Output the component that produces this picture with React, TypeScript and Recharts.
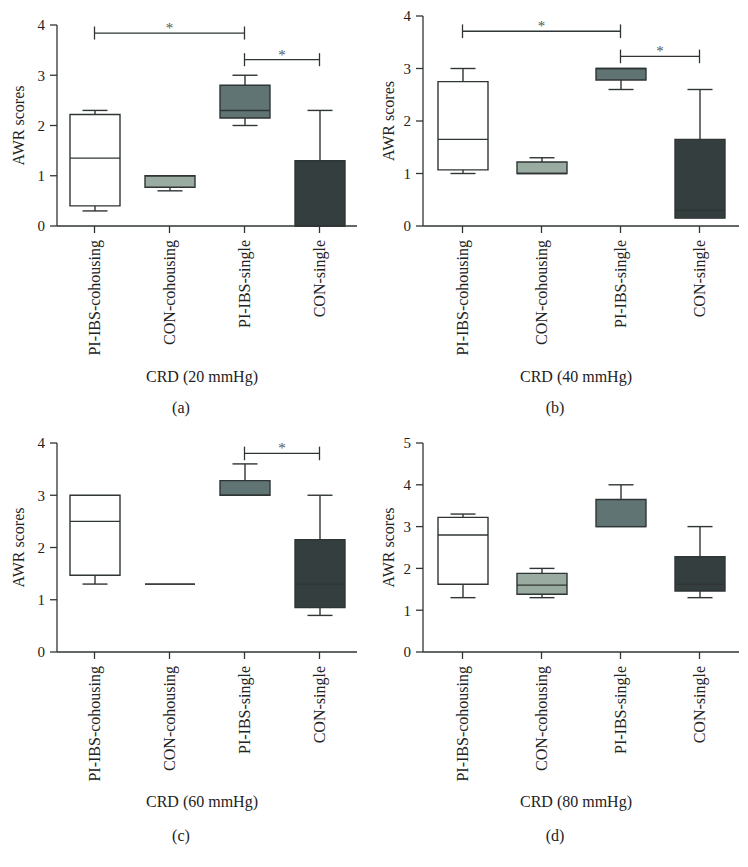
import { ComposedChart, Bar, XAxis, YAxis, ReferenceLine } from "recharts";

const FONT = '"Liberation Serif", "Times New Roman", serif';

const categories = ["PI-IBS-cohousing", "CON-cohousing", "PI-IBS-single", "CON-single"];

// [min, q1, median, q3, max] for each group
const crd20 = [
  [0.3, 0.4, 1.35, 2.22, 2.3],
  [0.7, 0.77, 1.0, 1.0, 1.0],
  [2.0, 2.15, 2.3, 2.8, 3.0],
  [0, 0, 0, 1.3, 2.3],
];
const crd40 = [
  [1.0, 1.07, 1.65, 2.75, 3.0],
  [1.0, 1.0, 1.0, 1.22, 1.3],
  [2.6, 2.78, 3.0, 3.0, 3.0],
  [0.15, 0.15, 0.3, 1.65, 2.6],
];
const crd60 = [
  [1.3, 1.47, 2.5, 3.0, 3.0],
  [1.3, 1.3, 1.3, 1.3, 1.3],
  [3.0, 3.0, 3.0, 3.28, 3.6],
  [0.7, 0.85, 1.3, 2.15, 3.0],
];
const crd80 = [
  [1.3, 1.62, 2.8, 3.22, 3.3],
  [1.3, 1.38, 1.6, 1.88, 2.0],
  [3.0, 3.0, 3.0, 3.65, 4.0],
  [1.3, 1.46, 1.62, 2.28, 3.0],
];

// significance bars: from group, to group, height
const sig20 = [
  { from: 0, to: 2, y: 3.84 },
  { from: 2, to: 3, y: 3.31 },
];
const sig40 = [
  { from: 0, to: 2, y: 3.71 },
  { from: 2, to: 3, y: 3.23 },
];
const sig60 = [{ from: 2, to: 3, y: 3.8 }];
const sig80: { from: number; to: number; y: number }[] = [];

const ticks4 = [0, 1, 2, 3, 4];
const ticks5 = [0, 1, 2, 3, 4, 5];

const boxColors = ["#ffffff", "#9aaba1", "#5f7473", "#343e3e"];
const INK = "#2f3535";
const TEXT = "#222222";

function BoxShape(props: any) {
  const { x, y, width, height, payload } = props;
  const zero = y + height;
  const unit = height / payload.max;
  const py = (v: number) => zero - v * unit;
  const cx = x + width / 2;
  const cap = width / 4;
  const x0 = x;
  const x1 = x + width;
  return (
    <g stroke={INK} strokeWidth={1.4}>
      {payload.max > payload.q3 && (
        <>
          <line x1={cx} x2={cx} y1={py(payload.max)} y2={py(payload.q3)} />
          <line x1={cx - cap} x2={cx + cap} y1={py(payload.max)} y2={py(payload.max)} />
        </>
      )}
      {payload.min < payload.q1 && (
        <>
          <line x1={cx} x2={cx} y1={py(payload.min)} y2={py(payload.q1)} />
          <line x1={cx - cap} x2={cx + cap} y1={py(payload.min)} y2={py(payload.min)} />
        </>
      )}
      <path
        d={`M${x0},${py(payload.q3)}H${x1}V${py(payload.q1)}H${x0}Z`}
        fill={payload.fill}
      />
      <line x1={x0} x2={x1} y1={py(payload.median)} y2={py(payload.median)} />
    </g>
  );
}

function CatTick(props: any) {
  const { x, y, payload } = props;
  return (
    <text
      x={x}
      y={y}
      transform={`rotate(-90 ${x} ${y})`}
      textAnchor="end"
      dy="0.35em"
      fontSize={16}
      fontFamily={FONT}
      fill={TEXT}
    >
      {payload.value}
    </text>
  );
}

function Panel({ stats, sigs, ticks, title, letter, left, top, margin, yWidth, titleOffset, letterY }: any) {
  const data = categories.map((name, i) => ({
    name,
    min: stats[i][0],
    q1: stats[i][1],
    median: stats[i][2],
    q3: stats[i][3],
    max: stats[i][4],
    fill: boxColors[i],
  }));
  const yMax = ticks[ticks.length - 1];
  return (
    <div style={{ position: "absolute", left, top, width: 374, height: 447 }}>
      <ComposedChart width={374} height={400} data={data} margin={margin}>
        <XAxis
          dataKey="name"
          interval={0}
          height={160}
          tick={<CatTick />}
          tickSize={7}
          tickMargin={7}
          stroke={INK}
          strokeWidth={1.3}
          label={{
            value: title,
            position: "insideBottom",
            offset: titleOffset,
            dx: -5,
            fontSize: 16,
            fontFamily: FONT,
            fill: TEXT,
            style: { fill: TEXT },
          }}
        />
        <YAxis
          domain={[0, yMax]}
          ticks={ticks}
          width={yWidth}
          tickSize={7}
          tickMargin={5}
          stroke={INK}
          strokeWidth={1.3}
          tick={{ fontSize: 15, fontFamily: FONT, fill: TEXT, style: { fill: TEXT } }}
          label={{
            value: "AWR scores",
            angle: -90,
            position: "insideLeft",
            offset: 8,
            fontSize: 16,
            fontFamily: FONT,
            fill: TEXT,
            style: { textAnchor: "middle", fill: TEXT },
          }}
        />
        <Bar dataKey="max" barSize={50} shape={<BoxShape />} isAnimationActive={false} />
        {sigs.map((s: any, i: number) => (
          <ReferenceLine
            key={`h${i}`}
            segment={[
              { x: categories[s.from], y: s.y },
              { x: categories[s.to], y: s.y },
            ]}
            stroke={INK}
            strokeWidth={1.3}
            ifOverflow="visible"
            label={{
              value: "*",
              position: "top",
              offset: 0,
              fontSize: 15,
              fontFamily: FONT,
              fill: "#555",
              style: { fill: "#555" },
            }}
          />
        ))}
        {sigs.map((s: any, i: number) => (
          <ReferenceLine
            key={`l${i}`}
            segment={[
              { x: categories[s.from], y: s.y - 0.13 },
              { x: categories[s.from], y: s.y + 0.13 },
            ]}
            stroke={INK}
            strokeWidth={1.3}
            ifOverflow="visible"
          />
        ))}
        {sigs.map((s: any, i: number) => (
          <ReferenceLine
            key={`r${i}`}
            segment={[
              { x: categories[s.to], y: s.y - 0.13 },
              { x: categories[s.to], y: s.y + 0.13 },
            ]}
            stroke={INK}
            strokeWidth={1.3}
            ifOverflow="visible"
          />
        ))}
      </ComposedChart>
      <div
        style={{
          position: "absolute",
          left: 161,
          width: 40,
          top: letterY - 10,
          lineHeight: "20px",
          textAlign: "center",
          fontSize: 16,
          fontFamily: FONT,
          color: TEXT,
        }}
      >
        {letter}
      </div>
    </div>
  );
}

export default function App() {
  return (
    <div style={{ position: "absolute", left: 0, top: 0, width: 748, height: 867, background: "#fff", overflow: "hidden" }}>
      <Panel
        stats={crd20}
        sigs={sig20}
        ticks={ticks4}
        title="CRD (20 mmHg)"
        letter="(a)"
        left={0}
        top={0}
        margin={{ top: 25, right: 17, bottom: 14, left: 10 }}
        yWidth={47}
        titleOffset={4}
        letterY={408}
      />
      <Panel
        stats={crd40}
        sigs={sig40}
        ticks={ticks4}
        title="CRD (40 mmHg)"
        letter="(b)"
        left={374}
        top={0}
        margin={{ top: 16, right: 9, bottom: 14, left: 6 }}
        yWidth={43}
        titleOffset={4}
        letterY={408}
      />
      <Panel
        stats={crd60}
        sigs={sig60}
        ticks={ticks4}
        title="CRD (60 mmHg)"
        letter="(c)"
        left={0}
        top={420}
        margin={{ top: 23, right: 17, bottom: 8, left: 10 }}
        yWidth={47}
        titleOffset={5}
        letterY={416}
      />
      <Panel
        stats={crd80}
        sigs={sig80}
        ticks={ticks5}
        title="CRD (80 mmHg)"
        letter="(d)"
        left={374}
        top={420}
        margin={{ top: 23, right: 9, bottom: 8, left: 6 }}
        yWidth={43}
        titleOffset={5}
        letterY={416}
      />
    </div>
  );
}
